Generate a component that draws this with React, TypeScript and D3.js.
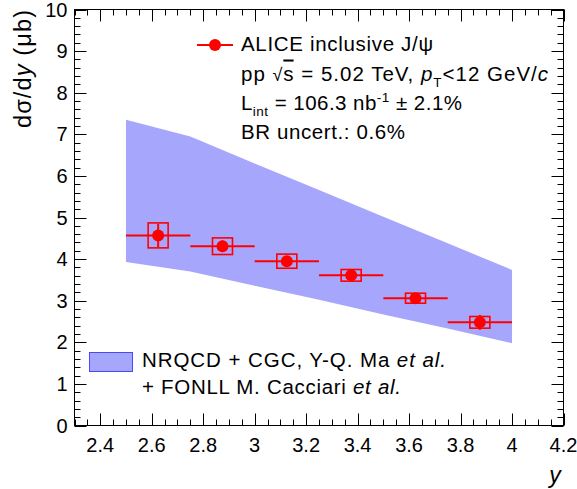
import React from "react";
import * as d3 from "d3";

const rapidity = [2.625, 2.875, 3.125, 3.375, 3.625, 3.875];
const binHalfWidth = [0.125, 0.125, 0.125, 0.125, 0.125, 0.125];
const crossSection = [4.57, 4.31, 3.95, 3.61, 3.06, 2.48];
const statErr = [0.28, 0.14, 0.1, 0.08, 0.08, 0.18];
const systErr = [0.3, 0.2, 0.17, 0.14, 0.12, 0.14];

const bandRapidity = [2.5, 2.75, 3.0, 3.25, 3.5, 3.75, 4.0];
const bandLow = [3.93, 3.7, 3.36, 3.02, 2.67, 2.33, 1.98];
const bandHigh = [7.35, 6.95, 6.3, 5.66, 5.02, 4.38, 3.74];

const xTicks = [2.4, 2.6, 2.8, 3.0, 3.2, 3.4, 3.6, 3.8, 4.0, 4.2];
const yTicks = [0, 1, 2, 3, 4, 5, 6, 7, 8, 9, 10];

const W = 577;
const H = 489;
const L = 74.5;
const R = 563.5;
const T = 9.5;
const B = 425.5;
const FONT = "'Liberation Sans', Arial, Helvetica, sans-serif";
const RED = "#ff0000";
const BAND = "#a6a6fd";

export default function App() {
  const x = d3.scaleLinear().domain([2.3, 4.2]).range([L, R]);
  const y = d3.scaleLinear().domain([0, 10]).range([B, T]);

  const area = d3
    .area<number>()
    .x((_, i) => x(bandRapidity[i]))
    .y0((_, i) => y(bandLow[i]))
    .y1((_, i) => y(bandHigh[i]));

  const xMinor = d3.range(2.3, 4.2001, 0.05);
  const yMinor = d3.range(0, 10.0001, 0.2);
  const xfmt = (v: number) => (Math.abs(v - Math.round(v)) < 1e-6 ? String(Math.round(v)) : v.toFixed(1));

  const boxHalf = 10;

  return (
    <svg width={W} height={H} style={{ position: "absolute", left: 0, top: 0, background: "#fff" }} fontFamily={FONT}>
      <rect x={0} y={0} width={W} height={H} fill="#fff" />
      <path d={area(bandRapidity) || ""} fill={BAND} stroke="none" />

      {/* data */}
      {rapidity.map((r, i) => {
        const cx = x(r);
        const cy = y(crossSection[i]);
        return (
          <g key={i}>
            <line x1={x(r - binHalfWidth[i])} x2={x(r + binHalfWidth[i])} y1={cy} y2={cy} stroke={RED} strokeWidth={2} />
            <line x1={cx} x2={cx} y1={y(crossSection[i] - statErr[i])} y2={y(crossSection[i] + statErr[i])} stroke={RED} strokeWidth={2} />
            <rect
              x={cx - boxHalf}
              y={y(crossSection[i] + systErr[i])}
              width={2 * boxHalf}
              height={y(crossSection[i] - systErr[i]) - y(crossSection[i] + systErr[i])}
              fill="none"
              stroke={RED}
              strokeWidth={1.6}
            />
            <circle cx={cx} cy={cy} r={6} fill={RED} />
          </g>
        );
      })}

      {/* frame */}
      <rect x={L} y={T} width={R - L} height={B - T} fill="none" stroke="#000" strokeWidth={1} />

      {/* x ticks */}
      {xMinor.map((v, i) => {
        const major = Math.abs(v / 0.2 - Math.round(v / 0.2)) < 1e-6;
        const len = major ? 12 : 6;
        const px = Math.round(x(v)) + 0.5;
        return (
          <g key={"xm" + i}>
            <line x1={px} x2={px} y1={B} y2={B - len} stroke="#000" strokeWidth={1} />
            <line x1={px} x2={px} y1={T} y2={T + len} stroke="#000" strokeWidth={1} />
          </g>
        );
      })}
      {xTicks.map((v, i) => (
        <text key={"xt" + i} x={x(v)} y={B + 26} textAnchor="middle" fontSize={20} fill="#000">
          {xfmt(v)}
        </text>
      ))}

      {/* y ticks */}
      {yMinor.map((v, i) => {
        const major = Math.abs(v - Math.round(v)) < 1e-6;
        const len = major ? 12 : 6;
        const py = Math.round(y(v)) + 0.5;
        return (
          <g key={"ym" + i}>
            <line x1={L} x2={L + len} y1={py} y2={py} stroke="#000" strokeWidth={1} />
            <line x1={R} x2={R - len} y1={py} y2={py} stroke="#000" strokeWidth={1} />
          </g>
        );
      })}
      {yTicks.map((v, i) => (
        <text key={"yt" + i} x={L - 7} y={y(v) + 7} textAnchor="end" fontSize={20} fill="#000">
          {v}
        </text>
      ))}

      {/* axis titles */}
      <text x={555} y={483} textAnchor="middle" fontSize={23} fontStyle="italic" fill="#000">
        y
      </text>
      <text transform={`translate(31,128) rotate(-90)`} fontSize={23.5} fill="#000" textLength={118} lengthAdjust="spacing">
        dσ/d<tspan fontStyle="italic">y</tspan> (μb)
      </text>

      {/* top legend */}
      <line x1={197} x2={233} y1={45} y2={45} stroke={RED} strokeWidth={2} />
      <circle cx={215} cy={45} r={6} fill={RED} />
      <g fontSize={20.5} fill="#000">
        <text x={241} y={51} textLength={192} lengthAdjust="spacing">ALICE inclusive J/ψ</text>
        <text x={241} y={80.5} textLength={307} lengthAdjust="spacing">
          pp <tspan fontSize={18}>√</tspan>
          <tspan textDecoration="overline">s</tspan>
          <tspan> = 5.02 TeV, </tspan>
          <tspan fontStyle="italic">p</tspan>
          <tspan fontSize={13.5} dy={6}>T</tspan>
          <tspan dy={-6}>&lt;12 GeV/</tspan>
          <tspan fontStyle="italic">c</tspan>
        </text>
        <text x={241} y={110} textLength={221} lengthAdjust="spacing">
          L<tspan fontSize={13.5} dy={6}>int</tspan>
          <tspan dy={-6}> = 106.3 nb</tspan>
          <tspan fontSize={13.5} dy={-8}>-1</tspan>
          <tspan dy={8}> ± 2.1%</tspan>
        </text>
        <text x={241} y={139} textLength={164} lengthAdjust="spacing">BR uncert.: 0.6%</text>
      </g>

      {/* bottom legend */}
      <rect x={89.5} y={352.5} width={43} height={19} fill={BAND} stroke="#4a4af5" strokeWidth={1} />
      <g fontSize={20.5} fill="#000">
        <text x={142} y={367} textLength={304} lengthAdjust="spacing">
          NRQCD + CGC, Y-Q. Ma <tspan fontStyle="italic">et al.</tspan>
        </text>
        <text x={142} y={394} textLength={259} lengthAdjust="spacing">
          + FONLL M. Cacciari <tspan fontStyle="italic">et al.</tspan>
        </text>
      </g>
    </svg>
  );
}
